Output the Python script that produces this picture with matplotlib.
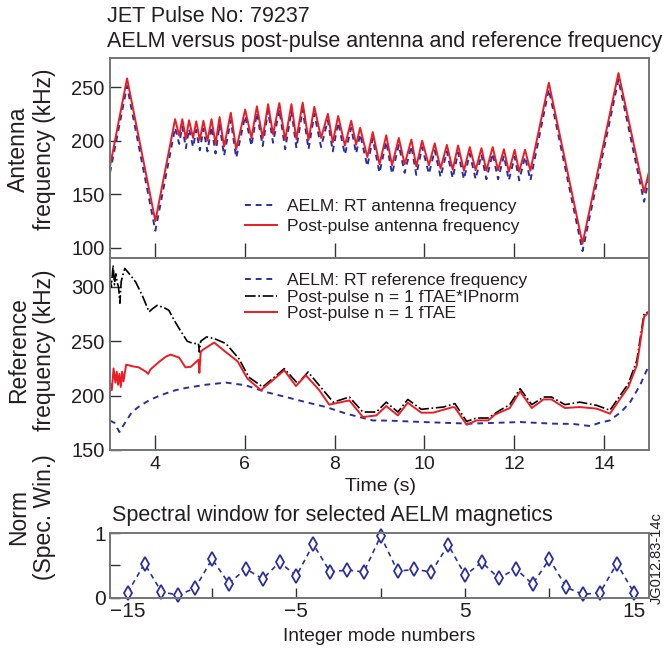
import numpy as np
import matplotlib
matplotlib.use("Agg")
import matplotlib.pyplot as plt

plt.rcParams['font.family'] = ['Liberation Sans', 'DejaVu Sans']

# Antenna frequency sweep (kHz) vs time (s)
t_ant = [3.0, 3.38, 4.01, 4.45, 4.54, 4.61, 4.69, 4.76, 4.85, 4.92, 5.0, 5.08, 5.17, 5.26,
         5.35, 5.44, 5.54, 5.69, 5.81, 6.01, 6.15, 6.27, 6.40, 6.52, 6.63, 6.77, 6.90, 7.04,
         7.15, 7.29, 7.42, 7.55, 7.70, 7.85, 7.96, 8.08, 8.23, 8.37, 8.48, 8.57, 8.73, 8.85,
         9.0, 9.15, 9.28, 9.43, 9.56, 9.71, 9.82, 9.95, 10.10, 10.23, 10.36, 10.50, 10.63,
         10.75, 10.88, 11.01, 11.14, 11.27, 11.38, 11.52, 11.64, 11.77, 11.88, 12.01, 12.11,
         12.24, 12.36, 12.77, 13.52, 14.32, 14.89, 15.0]
f_ant_post = [176, 258, 125, 220, 204.6, 220, 201.5, 219, 202.5, 218, 200.6, 218.5, 200, 220,
              197, 222, 194.5, 226, 192, 229, 202.5, 232, 202.5, 234, 206, 235, 200.6, 234,
              201.5, 235.5, 200.6, 231.5, 202.5, 225, 198.5, 223, 195.4, 218.5, 196.3, 212,
              184.6, 208, 178, 205, 177, 202.5, 178, 201, 176, 200, 177, 197.5, 174, 196, 173,
              195.5, 172, 194, 172.5, 193, 172, 194, 172.5, 192, 171, 191.5, 171, 191.5, 172,
              254, 104, 263, 152, 171]
f_ant_rt = [170, 251, 116, 212, 197, 213, 193, 211, 194, 210, 191, 211, 190, 213,
            188, 215, 186, 219, 184, 223, 195, 226, 195, 228, 198, 229, 192, 228,
            193, 229, 192, 225, 194, 219, 190, 217, 187, 212, 188, 206,
            176, 202, 170, 199, 169, 196, 170, 195, 168, 194, 169, 191, 166, 190, 165,
            189, 164, 188, 164, 187, 164, 188, 164, 186, 163, 185, 163, 185, 163,
            248, 97, 257, 143, 165]

# Reference frequency (kHz)
t_rt = [3.0, 3.1, 3.21, 3.35, 3.49, 3.68, 3.87, 4.05, 4.24, 4.46, 4.68, 5.13, 5.58, 6.02,
        6.47, 6.92, 7.36, 7.81, 8.26, 8.85, 9.22, 9.97, 11.01, 12.13, 12.87, 13.3, 13.69,
        13.9, 14.13, 14.38, 14.58, 14.8, 15.0]
f_rt = [177, 175, 166.5, 176, 185, 191, 195.6, 199, 202, 205, 207, 210, 212, 209.5,
        203.3, 198.7, 194, 189.5, 183.4, 177.2, 177, 175.7, 174.2, 175.7, 174.2, 174, 172,
        175, 177.2, 185, 194, 209.5, 228]

t_tae = [3.0, 3.04, 3.08, 3.12, 3.15, 3.18, 3.21, 3.24, 3.27, 3.3, 3.36, 3.5, 3.64, 3.8,
         3.85, 3.9, 4.09, 4.25, 4.35, 4.54, 4.68, 4.8, 4.97, 4.99, 5.02, 5.06, 5.32, 5.58,
         5.84, 6.06, 6.36, 6.62, 6.88, 7.14, 7.36, 7.66, 7.88, 8.33, 8.63, 8.93, 9.15, 9.41,
         9.63, 9.93, 10.19, 10.64, 10.68, 10.94, 11.16, 11.42, 11.57, 11.90, 12.13, 12.39,
         12.65, 12.83, 13.13, 13.46, 13.84, 14.13, 14.54, 14.73, 14.89, 15.0]
f_tae = [212, 205, 225, 212, 222, 210, 220, 208, 222, 213, 228.5, 227, 226, 222,
         220, 224, 231, 236, 237.7, 235, 226, 226.5, 233, 221, 240, 242, 248.8, 240,
         231.6, 215.6, 205, 214, 223.3, 208.8, 218.7, 205, 191.7, 195.6, 180.3, 181.8, 190.4,
         181.8, 193.5, 184.3, 184.3, 189.5, 189, 173.2, 177.2, 177.2, 182.5, 188.6, 203.9,
         188.6, 196.5, 196.5, 188.6, 189.5, 188, 183.4, 207.9, 227.9, 272.4, 277]

t_ip = [3.0, 3.03, 3.07, 3.1, 3.13, 3.16, 3.19, 3.22, 3.25, 3.28, 3.33, 3.45, 3.57, 3.72,
        3.87, 3.95, 4.05, 4.2, 4.31, 4.42, 4.54, 4.72, 4.85, 4.97, 4.99, 5.02, 5.15, 5.32,
        5.58, 5.87, 6.09, 6.40, 6.62, 6.88, 7.18, 7.41, 7.75, 7.97, 8.33, 8.63, 8.93, 9.15,
        9.41, 9.63, 9.93, 10.42, 10.68, 10.94, 11.16, 11.42, 11.68, 11.90, 12.13, 12.39,
        12.65, 12.83, 13.13, 13.46, 13.84, 14.13, 14.54, 14.73, 14.89, 15.0]
f_ip = [308, 300, 320, 302, 312, 304, 300, 285, 305, 310, 317, 311, 304.6, 292,
        277, 280, 283, 281, 278.5, 270, 261.7, 250, 248, 247.9, 240, 250, 254, 252.5,
        247.9, 234, 217, 208, 215.6, 224.8, 211, 221.7, 204.9, 194, 198.7, 184.9, 184.9, 194,
        184.9, 196.5, 187.4, 189.5, 192.6, 176.3, 179.4, 179.4, 186.5, 191.7, 206.4, 191.7,
        198.7, 198.7, 191.7, 194, 191, 186.5, 211, 232.5, 275.5, 277]

# Spectral window
modes = list(range(-15, 16))
spec_win = [0.08, 0.53, 0.09, 0.04, 0.15, 0.60, 0.22, 0.45, 0.29, 0.55, 0.34, 0.83, 0.40,
            0.43, 0.40, 0.96, 0.41, 0.44, 0.40, 0.82, 0.35, 0.55, 0.30, 0.45, 0.21, 0.60,
            0.16, 0.05, 0.08, 0.53, 0.08]

blue = '#2b2f9e'
red = '#ec1c24'
txt = '#231f20'
frame = '#747578'

fig = plt.figure(figsize=(6.69, 6.53), dpi=100)
ax1 = fig.add_axes([0.1644, 0.6056, 0.8057, 0.3055])
ax2 = fig.add_axes([0.1644, 0.3109, 0.8057, 0.2947], sharex=ax1)
ax3 = fig.add_axes([0.1644, 0.0847, 0.8057, 0.0986])

for ax in (ax1, ax2, ax3):
    for s in ax.spines.values():
        s.set_color(frame)
        s.set_linewidth(1.4)
    ax.tick_params(direction='in', length=8, width=1.0, color='#333333',
                   labelcolor=txt, labelsize=14.5, top=False, right=False, pad=4)

# top panel
ax1.plot(t_ant, f_ant_rt, '--', color=blue, lw=1.4, dashes=(3, 2.5),
         label='AELM: RT antenna frequency')
ax1.plot(t_ant, f_ant_post, '-', color=red, lw=1.4, label='Post-pulse antenna frequency')
ax1.set_xlim(3, 15)
ax1.set_ylim(91, 277)
ax1.set_yticks([100, 150, 200, 250])
ax1.set_xticks([4, 6, 8, 10, 12, 14])
ax1.tick_params(axis='x', length=11, labelbottom=False)
ax1.legend(loc='upper left', bbox_to_anchor=(0.2505, 0.295), frameon=False, fontsize=12.6,
           handlelength=1.85, handletextpad=0.55, labelspacing=0.3, borderpad=0,
           borderaxespad=0, labelcolor=txt)

# middle panel
ax2.plot(t_rt, f_rt, '--', color=blue, lw=1.4, dashes=(3, 2.5),
         label='AELM: RT reference frequency')
ax2.plot(t_ip, f_ip, '-.', color='black', lw=1.2, label='Post-pulse n = 1 fTAE*IPnorm')
ax2.plot(t_tae, f_tae, '-', color=red, lw=1.4, label='Post-pulse n = 1 fTAE')
ax2.set_ylim(150, 327)
ax2.set_yticks([150, 200, 250, 300])
ax2.tick_params(axis='x', length=11, labelsize=14, pad=4)
ax2.legend(loc='upper left', bbox_to_anchor=(0.2505, 0.92), frameon=False, fontsize=12.6,
           handlelength=1.85, handletextpad=0.55, labelspacing=0.08, borderpad=0,
           borderaxespad=0, labelcolor=txt)

# bottom panel
ax3.plot(modes, spec_win, '--', color=blue, lw=1.2, marker='d', markersize=7.5,
         mfc='white', mec=blue, mew=1.3, dashes=(3, 2.5), clip_on=False)
ax3.set_xlim(-16.05, 15.9)
ax3.set_ylim(0, 1)
ax3.set_xticks([-15, -10, -5, 0, 5, 10, 15])
ax3.set_xticklabels(['\u221215', '', '\u22125', '', '5', '', '15'])
ax3.set_yticks([0, 0.5, 1])
ax3.set_yticklabels(['0', '', '1'])
ax3.tick_params(labelsize=15, length=7, pad=3)
ax3.set_xlabel('Integer mode numbers', fontsize=13.8, color=txt, labelpad=5)

fig.text(0.16, 0.974, 'JET Pulse No: 79237', fontsize=15.5, color=txt, va='center')
fig.text(0.16, 0.936, 'AELM versus post-pulse antenna and reference frequency',
         fontsize=15.5, color=txt, va='center')
fig.text(0.047, 0.772, 'Antenna\nfrequency (kHz)', rotation=90, fontsize=16.5, color=txt,
         ha='center', va='center', linespacing=1.15)
fig.text(0.047, 0.464, 'Reference\nfrequency (kHz)', rotation=90, fontsize=16.5, color=txt,
         ha='center', va='center', linespacing=1.15)
fig.text(0.047, 0.208, 'Norm\n(Spec. Win.)', rotation=90, fontsize=16.5, color=txt,
         ha='center', va='center', linespacing=1.15)
fig.text(0.569, 0.255, 'Time (s)', fontsize=14, color=txt, ha='center', va='center')
fig.text(0.167, 0.211, 'Spectral window for selected AELM magnetics', fontsize=15.5,
         color=txt, va='center')
fig.text(0.981, 0.145, 'JG012.83-14c', rotation=90, fontsize=10.5, color=txt,
         ha='center', va='center')

fig.savefig('out.png', dpi=100)
